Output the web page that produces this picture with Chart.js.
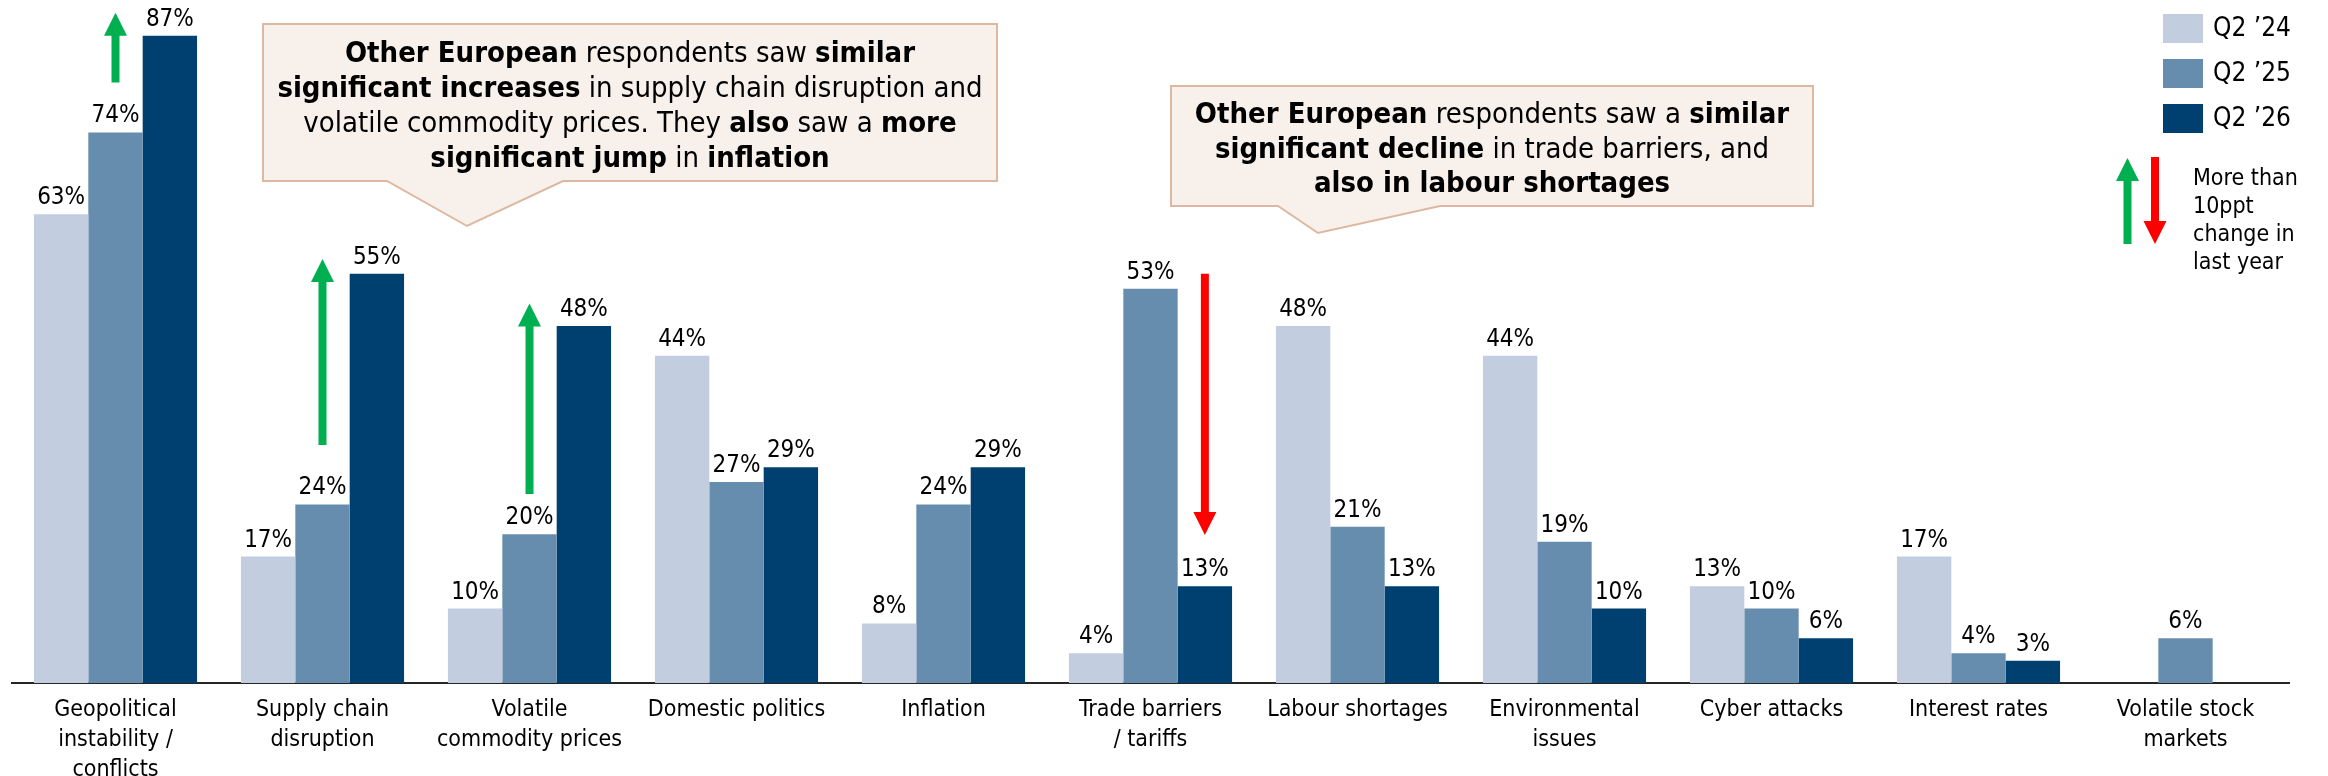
<!DOCTYPE html>
<html>
<head>
<meta charset="utf-8">
<script src="https://cdn.jsdelivr.net/npm/chart.js@4.4.1/dist/chart.umd.min.js"></script>
<style>
  html, body { margin:0; padding:0; background:#fff; overflow:hidden; }
  #wrap { width:2328px; height:776px; position:relative; }
</style>
</head>
<body>
<div id="wrap"><canvas id="risks" width="2328" height="776"></canvas></div>
<script>
const FONT = '"DejaVu Sans Condensed", "DejaVu Sans", sans-serif';

// ── data ─────────────────────────────────────────────
const categories = [
  ['Geopolitical', 'instability /', 'conflicts'],
  ['Supply chain', 'disruption'],
  ['Volatile', 'commodity prices'],
  'Domestic politics',
  'Inflation',
  ['Trade barriers', '/ tariffs'],
  'Labour shortages',
  ['Environmental', 'issues'],
  'Cyber attacks',
  'Interest rates',
  ['Volatile stock', 'markets']
];
const seriesLabels = ['Q2 \u201924', 'Q2 \u201925', 'Q2 \u201926'];
const seriesColors = ['#C2CDDF', '#678DAE', '#004070'];
const q2_24 = [63, 17, 10, 44,  8,  4, 48, 44, 13, 17, null];
const q2_25 = [74, 24, 20, 27, 24, 53, 21, 19, 10,  4, 6];
const q2_26 = [87, 55, 48, 29, 29, 13, 13, 10,  6,  3, null];

// >10ppt change markers: category, dataset column, tail/tip in % units
const bigMoves = [
  { cat:0, ds:1, from:80.7, to:90.1, color:'#00B050' },
  { cat:1, ds:1, from:32.0, to:57.0, color:'#00B050' },
  { cat:2, ds:1, from:25.4, to:51.0, color:'#00B050' },
  { cat:5, ds:2, from:55.0, to:19.9, color:'#FF0000' }
];

// speech-bubble notes: [text, bold] runs per line
const callouts = [
  { box:[263, 24, 997, 181], tail:[387, 563, 467, 226], baselines:[62, 97, 132, 167], cx:630,
    lines:[
      [['Other European', true], [' respondents saw ', false], ['similar', true]],
      [['significant increases', true], [' in supply chain disruption and', false]],
      [['volatile commodity prices. They ', false], ['also', true], [' saw a ', false], ['more', true]],
      [['significant jump', true], [' in ', false], ['inflation', true]]
    ] },
  { box:[1171, 86, 1813, 206], tail:[1278, 1440, 1318, 233], baselines:[123, 158, 192], cx:1492,
    lines:[
      [['Other European', true], [' respondents saw a ', false], ['similar', true]],
      [['significant decline', true], [' in trade barriers, and', false]],
      [['also in labour shortages', true]]
    ] }
];
const changeNote = ['More than', '10ppt', 'change in', 'last year'];

// ── helpers ──────────────────────────────────────────
function arrow(ctx, x, yTail, yTip, color) {
  const dir = yTip < yTail ? -1 : 1;
  const head = 23, hw = 11.5, sw = 4;
  const yBase = yTip - dir * head;
  ctx.fillStyle = color;
  ctx.beginPath();
  ctx.moveTo(x - sw, yTail);
  ctx.lineTo(x - sw, yBase);
  ctx.lineTo(x - hw, yBase);
  ctx.lineTo(x, yTip);
  ctx.lineTo(x + hw, yBase);
  ctx.lineTo(x + sw, yBase);
  ctx.lineTo(x + sw, yTail);
  ctx.closePath();
  ctx.fill();
}

function runFont(bold, size) {
  return (bold ? 'bold ' : '') + size + 'px ' + FONT;
}

const valueLabels = {
  id: 'valueLabels',
  afterDatasetsDraw(chart) {
    const ctx = chart.ctx;
    ctx.save();
    ctx.font = '24px ' + FONT;
    ctx.fillStyle = '#000';
    ctx.textAlign = 'center';
    ctx.textBaseline = 'alphabetic';
    chart.data.datasets.forEach((ds, di) => {
      chart.getDatasetMeta(di).data.forEach((bar, i) => {
        const v = ds.data[i];
        if (v === null) return;
        ctx.fillText(v + '%', bar.x, bar.y - 10);
      });
    });
    ctx.restore();
  }
};

const moveArrows = {
  id: 'moveArrows',
  afterDatasetsDraw(chart) {
    const ctx = chart.ctx, y = chart.scales.y;
    ctx.save();
    bigMoves.forEach(m => {
      const bar = chart.getDatasetMeta(m.ds).data[m.cat];
      arrow(ctx, bar.x, y.getPixelForValue(m.from), y.getPixelForValue(m.to), m.color);
    });
    ctx.restore();
  }
};

const notes = {
  id: 'notes',
  afterDraw(chart) {
    const ctx = chart.ctx;
    ctx.save();
    callouts.forEach(c => {
      const [x1, y1, x2, y2] = c.box;
      const [pl, pr, tx, ty] = c.tail;
      ctx.beginPath();
      ctx.moveTo(x1, y1);
      ctx.lineTo(x2, y1);
      ctx.lineTo(x2, y2);
      ctx.lineTo(pr, y2);
      ctx.lineTo(tx, ty);
      ctx.lineTo(pl, y2);
      ctx.lineTo(x1, y2);
      ctx.closePath();
      ctx.fillStyle = '#F8F0EB';
      ctx.fill();
      ctx.lineWidth = 2;
      ctx.strokeStyle = '#DDB8A0';
      ctx.stroke();

      ctx.fillStyle = '#000';
      ctx.textBaseline = 'alphabetic';
      ctx.textAlign = 'left';
      c.lines.forEach((runs, li) => {
        let w = 0;
        runs.forEach(r => { ctx.font = runFont(r[1], 29); w += ctx.measureText(r[0]).width; });
        let x = c.cx - w / 2;
        runs.forEach(r => {
          ctx.font = runFont(r[1], 29);
          ctx.fillText(r[0], x, c.baselines[li]);
          x += ctx.measureText(r[0]).width;
        });
      });
    });

    // series key, top right
    ctx.font = '26px ' + FONT;
    ctx.textBaseline = 'middle';
    chart.data.datasets.forEach((ds, i) => {
      const top = 14 + i * 45;
      ctx.fillStyle = ds.backgroundColor;
      ctx.fillRect(2163, top, 40, 29);
      ctx.fillStyle = '#000';
      ctx.fillText(ds.label, 2213, top + 15);
    });

    // arrow key
    arrow(ctx, 2127.5, 244, 158, '#00B050');
    arrow(ctx, 2155, 157, 244, '#FF0000');
    ctx.font = '23px ' + FONT;
    ctx.fillStyle = '#000';
    ctx.textBaseline = 'alphabetic';
    changeNote.forEach((t, i) => ctx.fillText(t, 2193, 185 + i * 28));
    ctx.restore();
  }
};

new Chart(document.getElementById('risks'), {
  type: 'bar',
  data: {
    labels: categories,
    datasets: [q2_24, q2_25, q2_26].map((d, i) => ({
      label: seriesLabels[i],
      data: d,
      backgroundColor: seriesColors[i],
      borderWidth: 0,
      barPercentage: 1,
      categoryPercentage: 0.788
    }))
  },
  options: {
    responsive: false,
    animation: false,
    devicePixelRatio: 1,
    layout: { padding: { left: 12, right: 39, top: 0, bottom: 0 } },
    plugins: { legend: { display: false }, tooltip: { enabled: false } },
    scales: {
      x: {
        grid: { display: false, drawTicks: false },
        border: { display: true, color: '#262626', width: 2 },
        ticks: { color: '#000', padding: 12, autoSkip: false, maxRotation: 0,
                 font: { family: FONT, size: 23, lineHeight: 1.3 } },
        afterFit(s) { s.height = 93; }
      },
      y: { display: false, min: 0, max: 91.8 }
    }
  },
  plugins: [valueLabels, moveArrows, notes]
});
</script>
</body>
</html>
